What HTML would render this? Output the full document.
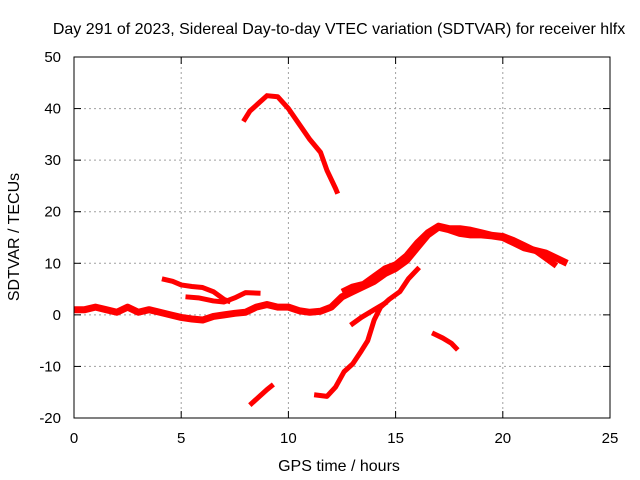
<!DOCTYPE html>
<html><head><meta charset="utf-8"><style>
body{margin:0;background:#fff}
svg{display:block;font-family:"Liberation Sans",sans-serif}
</style></head><body>
<svg width="640" height="480" viewBox="0 0 640 480">
<rect width="640" height="480" fill="#fff"/>
<text x="339" y="34" text-anchor="middle" font-size="16">Day 291 of 2023, Sidereal Day-to-day VTEC variation (SDTVAR) for receiver hlfx</text>
<g id="grid"></g>
<g id="marks"></g>
<rect x="74" y="57" width="536" height="361" fill="none" stroke="#000" stroke-width="1"/>
<g id="ticks"></g>
<text x="339" y="471" text-anchor="middle" font-size="16">GPS time / hours</text>
<text transform="translate(19,237) rotate(-90)" text-anchor="middle" font-size="16">SDTVAR / TECUs</text>
</svg>
<script>
const xTicks=[0,5,10,15,20,25];
const yTicks=[-20,-10,0,10,20,30,40,50];
const arcMain=[[0,1],[0.5,1],[1,1.5],[1.5,1],[2,0.5],[2.5,1.5],[3,0.5],[3.5,1],[4,0.5],[4.5,0],[5,-0.5],[5.5,-0.8],[6,-1],[6.5,-0.3],[7,0],[7.5,0.3],[8,0.5],[8.5,1.5],[9,2],[9.5,1.5],[10,1.5],[10.5,0.8],[11,0.5],[11.5,0.7],[12,1.5],[12.5,3.5],[13,4.5],[13.5,5.5],[14,6.5],[14.5,8],[15,9],[15.5,10.5],[16,13],[16.5,15.5],[17,17],[17.5,16.5],[18,15.8],[18.5,15.5],[19,15.5],[19.5,15.3],[20,15],[20.5,14],[21,13],[21.5,12.5],[22,12],[22.5,11],[23,10]];
const arcMain2=[[12.5,4.5],[13,5.5],[13.5,6],[14,7.5],[14.5,9],[15,9.8],[15.5,11.5],[16,14],[16.5,16],[17,17.3],[17.5,16.8],[18,16.8],[18.5,16.5],[19,16],[19.5,15.5],[20,15.3],[20.5,14.5],[21,13.5],[21.5,12.5],[22,11],[22.5,9.5]];
const arcB=[[4.1,7],[4.6,6.5],[5,5.8],[5.5,5.5],[6,5.3],[6.5,4.5],[7,3],[7.3,2.5]];
const arcC=[[5.2,3.5],[5.8,3.3],[6.5,2.7],[7,2.5],[7.5,3.3],[8,4.3],[8.7,4.2]];
const arcD=[[7.9,37.5],[8.2,39.5],[8.6,41],[9,42.5],[9.5,42.3],[10,40],[10.5,37],[11,34],[11.5,31.5],[11.8,28],[12.2,24.5],[12.3,23.5]];
const arcE=[[8.2,-17.5],[8.6,-16],[9,-14.5],[9.3,-13.5]];
const arcF=[[11.2,-15.5],[11.8,-15.8],[12.2,-14],[12.6,-11],[13,-9.5],[13.4,-7],[13.7,-5],[14,-1],[14.3,1.5],[14.7,3],[15.2,4.5],[15.6,7],[16.1,9.2]];
const arcG=[[12.9,-2],[13.4,-0.5],[14,1],[14.6,2.5]];
const arcH=[[16.7,-3.5],[17.2,-4.5],[17.6,-5.5],[17.9,-6.8]];
const NS='http://www.w3.org/2000/svg';
const X=h=>74+h*536/25;
const Y=v=>418-(v+20)*361/70;
const grid=document.getElementById('grid'),ticks=document.getElementById('ticks'),marks=document.getElementById('marks');
function mk(tag,attrs,parent){const e=document.createElementNS(NS,tag);for(const k in attrs)e.setAttribute(k,attrs[k]);parent.appendChild(e);return e;}
xTicks.forEach(t=>{
  if(t>0&&t<25){const g=mk('line',{x1:X(t),x2:X(t),y1:57,y2:418,stroke:'#a0a0a0','stroke-dasharray':'2,3'},grid);
  
  }
  const a=mk('line',{x1:X(t),x2:X(t),y1:418,y2:411,stroke:'#000'},ticks);
  
  
  const b=mk('line',{x1:X(t),x2:X(t),y1:57,y2:64,stroke:'#000'},ticks);
  
  
  const l=mk('text',{x:X(t),y:443,'text-anchor':'middle','font-size':15},ticks);l.textContent=t;
  
  
});
yTicks.forEach(t=>{
  if(t>-20&&t<50){const g=mk('line',{x1:74,x2:610,y1:Y(t),y2:Y(t),stroke:'#a0a0a0','stroke-dasharray':'2,3'},grid);
  
  }
  const a=mk('line',{x1:74,x2:81,y1:Y(t),y2:Y(t),stroke:'#000'},ticks);
  
  
  const b=mk('line',{x1:603,x2:610,y1:Y(t),y2:Y(t),stroke:'#000'},ticks);
  
  
  const l=mk('text',{x:61,y:Y(t)+5,'text-anchor':'end','font-size':15},ticks);l.textContent=t;
  
  
});
[[arcMain,7,'main-arc'],[arcMain2,6,'main-arc-upper'],[arcB,5,'arc-b'],[arcC,5,'arc-c'],[arcD,5,'arc-d'],[arcE,5,'arc-e'],[arcF,5,'arc-f'],[arcG,5,'arc-g'],[arcH,5,'arc-h']].forEach(([arr,w,name])=>{
  const p=mk('polyline',{points:arr.map(d=>X(d[0])+','+Y(d[1])).join(' '),fill:'none',stroke:'#ff0000','stroke-width':w,'stroke-linejoin':'round'},marks);
  
  
});
</script>
</body></html>
